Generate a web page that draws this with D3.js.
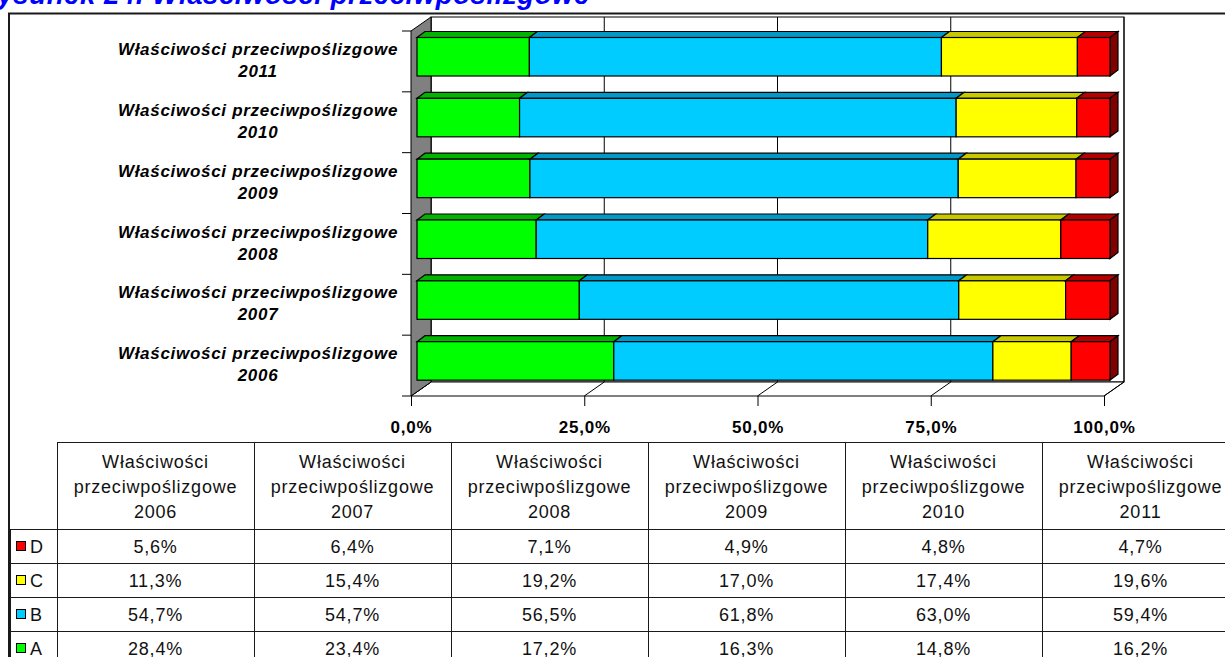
<!DOCTYPE html>
<html>
<head>
<meta charset="utf-8">
<script src="https://cdn.jsdelivr.net/npm/d3@7"></script>
<style>
  body { margin: 0; background: #fff; }
  text { font-family: "Liberation Sans", Arial, sans-serif; }
</style>
</head>
<body>
<script>
const years = ["2006", "2007", "2008", "2009", "2010", "2011"];
const seriesNames = ["A", "B", "C", "D"];
const valuesA = [28.4, 23.4, 17.2, 16.3, 14.8, 16.2];
const valuesB = [54.7, 54.7, 56.5, 61.8, 63.0, 59.4];
const valuesC = [11.3, 15.4, 19.2, 17.0, 17.4, 19.6];
const valuesD = [5.6, 6.4, 7.1, 4.9, 4.8, 4.7];
const axisTicks = [0, 0.25, 0.5, 0.75, 1];
const categoryLabel = "Właściwości przeciwpoślizgowe";
const headerLines = ["Właściwości", "przeciwpoślizgowe"];
const title = "Rysunek 24. Właściwości przeciwpoślizgowe";

const frontColor = {A: "#00ff00", B: "#00ccff", C: "#ffff00", D: "#ff0000"};
const topColor = {A: "#00b400", B: "#0099c8", C: "#c8c800", D: "#b40000"};
const sideColor = {A: "#008000", B: "#006699", C: "#808000", D: "#800000"};

const valuesBySeries = {A: valuesA, B: valuesB, C: valuesC, D: valuesD};
const rows = years.map((y, i) => ({
  year: y, A: valuesA[i], B: valuesB[i], C: valuesC[i], D: valuesD[i]
}));

const pl = d3.formatLocale({decimal: ",", thousands: " ", grouping: [3], currency: ["", " zł"]});
const fmtPct = pl.format(".1%");
const fmtVal = v => pl.format(".1f")(v) + "%";

const svg = d3.select("body").append("svg")
  .attr("width", 1225)
  .attr("height", 657);

// title (cut at the top like the source)
svg.append("text")
  .attr("x", 590).attr("y", 4)
  .attr("text-anchor", "end")
  .attr("fill", "#0000ff")
  .style("font-size", "27.5px").style("font-weight", "bold").style("font-style", "italic")
  .style("letter-spacing", "0.6px")
  .text(title);

// outer frame
svg.append("rect")
  .attr("x", 9).attr("y", 13.5)
  .attr("width", 1260).attr("height", 700)
  .attr("fill", "#fff").attr("stroke", "#1a1a1a").attr("stroke-width", 2);

// 3D geometry
const depthX = 20, depthY = -14;
const floorY = 396, topY = 31;
const xFront = d3.scaleLinear().domain([0, 1]).range([411, 1104]);
const xBack = t => xFront(t) + depthX;
const xBar = d3.scaleLinear().domain([0, 1]).range([417, 1110]);
const yBand = d3.scaleBand().domain(years.slice().reverse()).range([topY, floorY]);
const barDX = 8, barDY = -6;
const barOff = 6.5, barH = 38.5;

const plot = svg.append("g");

// back wall
plot.append("rect")
  .attr("x", xBack(0)).attr("y", topY + depthY)
  .attr("width", xBack(1) - xBack(0)).attr("height", floorY - topY)
  .attr("fill", "#fff").attr("stroke", "#000").attr("stroke-width", 1);

// floor
plot.append("path")
  .attr("d", `M${xFront(0)},${floorY}L${xFront(1)},${floorY}L${xBack(1)},${floorY + depthY}L${xBack(0)},${floorY + depthY}Z`)
  .attr("fill", "#fff").attr("stroke", "#000").attr("stroke-width", 1);

// gridlines: back wall verticals + floor diagonals
plot.selectAll(".grid").data(axisTicks).join("path")
  .attr("class", "grid")
  .attr("d", t => `M${xFront(t)},${floorY}L${xBack(t)},${floorY + depthY}L${xBack(t)},${topY + depthY}`)
  .attr("fill", "none").attr("stroke", "#000").attr("stroke-width", 1);

// left wall
plot.append("path")
  .attr("d", `M${xFront(0)},${topY}L${xBack(0)},${topY + depthY}L${xBack(0)},${floorY + depthY}L${xFront(0)},${floorY}Z`)
  .attr("fill", "#808080").attr("stroke", "#000").attr("stroke-width", 1);

// category ticks at band boundaries
const bounds = yBand.domain().map(d => yBand(d)).concat([floorY]);
plot.selectAll(".ctick").data(bounds).join("line")
  .attr("class", "ctick")
  .attr("x1", xFront(0) - 9).attr("x2", xFront(0))
  .attr("y1", d => d).attr("y2", d => d)
  .attr("stroke", "#000");

// value axis
const xAxis = plot.append("g")
  .attr("transform", `translate(0,${floorY})`)
  .call(d3.axisBottom(xFront).tickValues(axisTicks).tickFormat(fmtPct).tickSizeInner(10).tickSizeOuter(0).tickPadding(15));
xAxis.select(".domain").remove();
xAxis.selectAll("line").attr("stroke", "#000");
xAxis.selectAll("text")
  .attr("fill", "#000")
  .style("font-family", "'Liberation Sans', Arial, sans-serif")
  .style("font-size", "17px").style("font-weight", "bold")
  .style("letter-spacing", "0.8px");

// stacked 3D bars
const stack = d3.stack().keys(seriesNames).offset(d3.stackOffsetExpand)(rows);
stack.forEach(layer => {
  const key = layer.key;
  const g = plot.append("g");
  layer.forEach(seg => {
    const yr = seg.data.year;
    const y0 = yBand(yr) + barOff;
    const xa = xBar(seg[0]), xb = xBar(seg[1]);
    g.append("path")
      .attr("d", `M${xa},${y0}L${xa + barDX},${y0 + barDY}L${xb + barDX},${y0 + barDY}L${xb},${y0}Z`)
      .attr("fill", topColor[key]).attr("stroke", "#000").attr("stroke-width", 1.2);
    if (key === seriesNames[seriesNames.length - 1]) {
      g.append("path")
        .attr("d", `M${xb},${y0}L${xb + barDX},${y0 + barDY}L${xb + barDX},${y0 + barH + barDY}L${xb},${y0 + barH}Z`)
        .attr("fill", sideColor[key]).attr("stroke", "#000").attr("stroke-width", 1.2);
    }
    g.append("rect")
      .attr("x", xa).attr("y", y0)
      .attr("width", xb - xa).attr("height", barH)
      .attr("fill", frontColor[key]).attr("stroke", "#000").attr("stroke-width", 1.2);
  });
});

// category labels
const catLabels = plot.selectAll(".clabel").data(years).join("text")
  .attr("class", "clabel")
  .attr("text-anchor", "middle")
  .attr("fill", "#000")
  .style("font-size", "17px").style("font-weight", "bold").style("font-style", "italic")
  .style("letter-spacing", "0.7px");
catLabels.append("tspan")
  .attr("x", 258).attr("y", d => yBand(d) + 24)
  .text(categoryLabel);
catLabels.append("tspan")
  .attr("x", 258).attr("y", d => yBand(d) + 46)
  .text(d => d);

// data table
const colX = d3.scaleBand().domain(years).range([57, 57 + 197 * 6]);
const rowOrder = ["D", "C", "B", "A"];
const rowY = d3.scaleBand().domain(rowOrder).range([529, 529 + 34 * 4]);
const headTop = 442;
const tbl = svg.append("g");
const lineColor = "#1a1a1a";

tbl.append("line")
  .attr("x1", 57).attr("x2", 1240).attr("y1", headTop + 0.5).attr("y2", headTop + 0.5)
  .attr("stroke", lineColor);
tbl.selectAll(".vline").data(years).join("line")
  .attr("class", "vline")
  .attr("x1", d => Math.round(colX(d)) + 0.5).attr("x2", d => Math.round(colX(d)) + 0.5)
  .attr("y1", headTop).attr("y2", 660)
  .attr("stroke", lineColor);
tbl.append("line")
  .attr("x1", 10.5).attr("x2", 10.5).attr("y1", rowY("D")).attr("y2", 660)
  .attr("stroke", lineColor);
tbl.selectAll(".hline").data(rowOrder).join("line")
  .attr("class", "hline")
  .attr("x1", 10).attr("x2", 1240)
  .attr("y1", d => rowY(d) + 0.5).attr("y2", d => rowY(d) + 0.5)
  .attr("stroke", lineColor);

const tableText = sel => sel
  .attr("fill", "#111")
  .style("font-size", "18px")
  .style("letter-spacing", "0.8px");

// header cells
const heads = tbl.selectAll(".head").data(years).join("text")
  .attr("class", "head")
  .attr("text-anchor", "middle")
  .call(tableText);
headerLines.forEach((ln, i) => {
  heads.append("tspan")
    .attr("x", d => colX(d) + colX.bandwidth() / 2)
    .attr("y", headTop + 26 + i * 25)
    .text(ln);
});
heads.append("tspan")
  .attr("x", d => colX(d) + colX.bandwidth() / 2)
  .attr("y", headTop + 26 + 2 * 25)
  .text(d => d);

// legend keys
rowOrder.forEach(key => {
  const cy = rowY(key) + rowY.bandwidth() / 2;
  tbl.append("rect")
    .attr("x", 16.5).attr("y", Math.round(cy - 5) + 0.5)
    .attr("width", 9).attr("height", 9)
    .attr("fill", frontColor[key]).attr("stroke", "#000");
  tbl.append("text")
    .attr("x", 30).attr("y", cy + 6.5)
    .call(tableText)
    .text(key);
  tbl.selectAll(null).data(years).join("text")
    .attr("x", d => colX(d) + colX.bandwidth() / 2)
    .attr("y", cy + 6.5)
    .attr("text-anchor", "middle")
    .call(tableText)
    .text((d, i) => fmtVal(valuesBySeries[key][i]));
});
</script>
</body>
</html>
